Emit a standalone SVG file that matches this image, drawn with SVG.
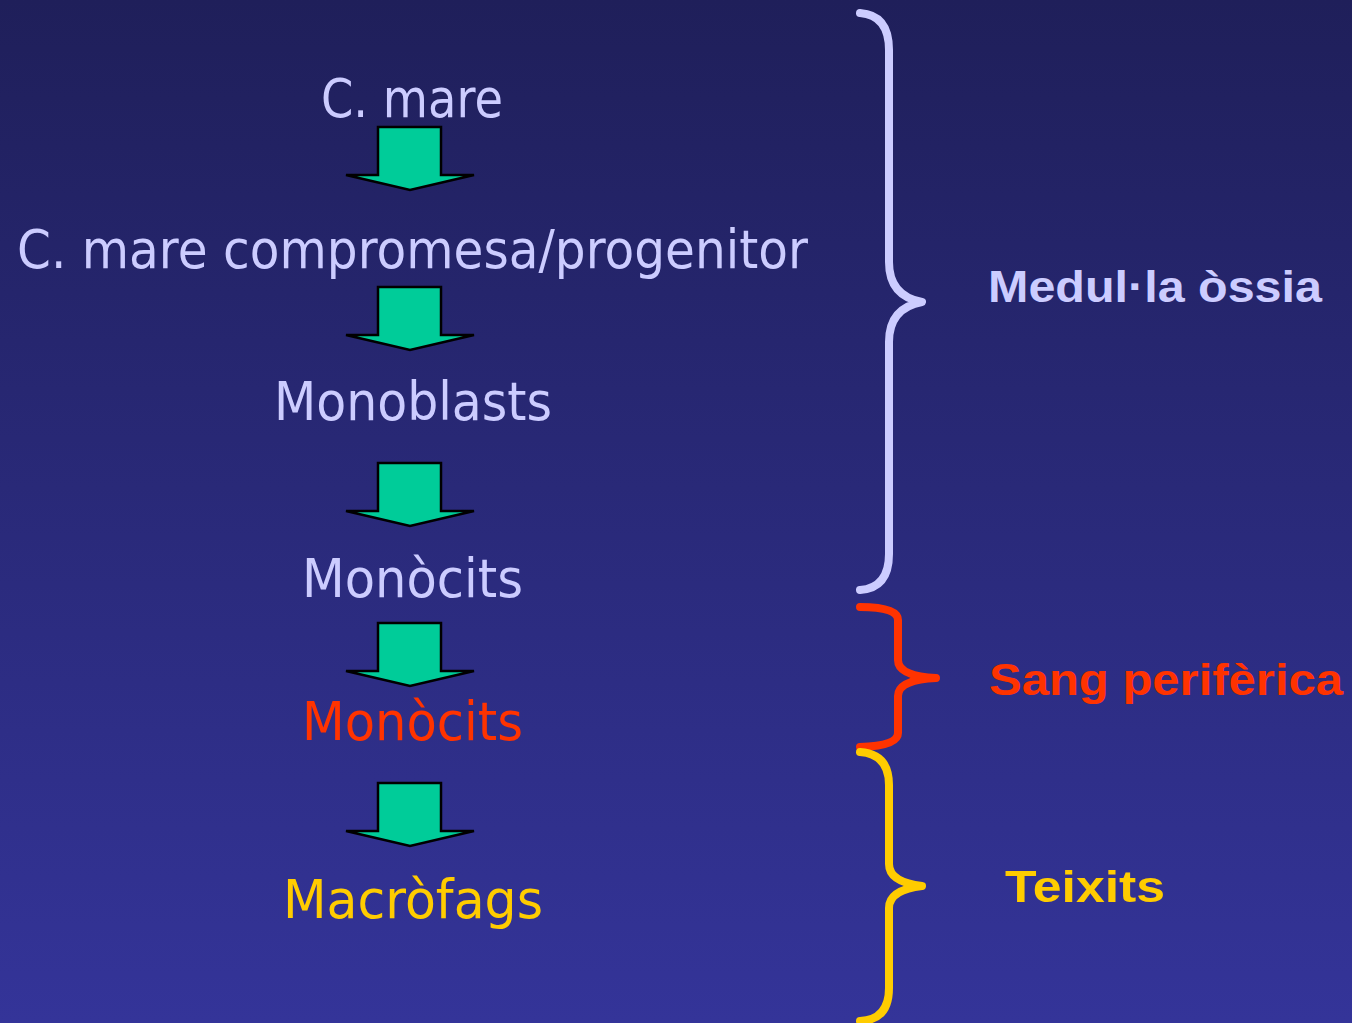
<svg xmlns="http://www.w3.org/2000/svg" width="1352" height="1023" viewBox="0 0 1352 1023">
<defs>
<linearGradient id="bg" x1="0" y1="0" x2="0" y2="1">
<stop offset="0" stop-color="#1f1f5a"/>
<stop offset="1" stop-color="#343499"/>
</linearGradient>
<path id="arr" d="M378,0 H441 V48 H474 L410,63 L346,48 H378 Z"/>
</defs>
<style>
.t{font-family:"DejaVu Sans","Noto Sans",sans-serif;font-size:53px;}
.r{font-family:"Liberation Sans","DejaVu Sans",sans-serif;font-size:45px;font-weight:bold;}
.lav{fill:#ccccff;}
.red{fill:#ff3300;}
.yel{fill:#ffcc00;}
.a{fill:#00cc99;stroke:#000;stroke-width:2.5;stroke-linejoin:miter;}
.br{fill:none;stroke-width:8;stroke-linecap:round;stroke-linejoin:round;}
</style>
<rect width="1352" height="1023" fill="url(#bg)"/>
<g id="n1"><text class="t lav" x="321" y="117" textLength="182" lengthAdjust="spacingAndGlyphs">C. mare</text></g>
<g id="n2"><text class="t lav" x="17" y="268" textLength="791" lengthAdjust="spacingAndGlyphs">C. mare compromesa/progenitor</text></g>
<g id="n3"><text class="t lav" x="274" y="420" textLength="278" lengthAdjust="spacingAndGlyphs">Monoblasts</text></g>
<g id="n4"><text class="t lav" x="302" y="597" textLength="221" lengthAdjust="spacingAndGlyphs">Monòcits</text></g>
<g id="n5"><text class="t red" x="302" y="740" textLength="221" lengthAdjust="spacingAndGlyphs">Monòcits</text></g>
<g id="n6"><text class="t yel" x="283" y="918" textLength="260" lengthAdjust="spacingAndGlyphs">Macròfags</text></g>
<g id="connectors">
<use href="#arr" class="a" y="127"/>
<use href="#arr" class="a" y="287"/>
<use href="#arr" class="a" y="463"/>
<use href="#arr" class="a" y="623"/>
<use href="#arr" class="a" y="783"/>
</g>
<g id="brace1">
<path class="br" stroke="#ccccff" d="M860,13 Q889,15 889,50 V262 Q889,296 922,302 Q889,308 889,342 V554 Q889,588 860,590"/>
<text class="r lav" x="988" y="302" textLength="334" lengthAdjust="spacingAndGlyphs">Medul·la òssia</text>
</g>
<g id="brace2">
<path class="br" stroke="#ff3300" d="M860,607 Q898,607 898,620 V660 Q898,676 936,678 Q898,680 898,696 V733 Q898,746 860,747"/>
<text class="r red" x="989" y="695" textLength="354" lengthAdjust="spacingAndGlyphs">Sang perifèrica</text>
</g>
<g id="brace3">
<path class="br" stroke="#ffcc00" d="M860,752 Q889,754 889,785 V864 Q889,882 922,886 Q889,890 889,908 V988 Q889,1020 860,1021"/>
<text class="r yel" x="1005" y="902" textLength="160" lengthAdjust="spacingAndGlyphs">Teixits</text>
</g>
</svg>
